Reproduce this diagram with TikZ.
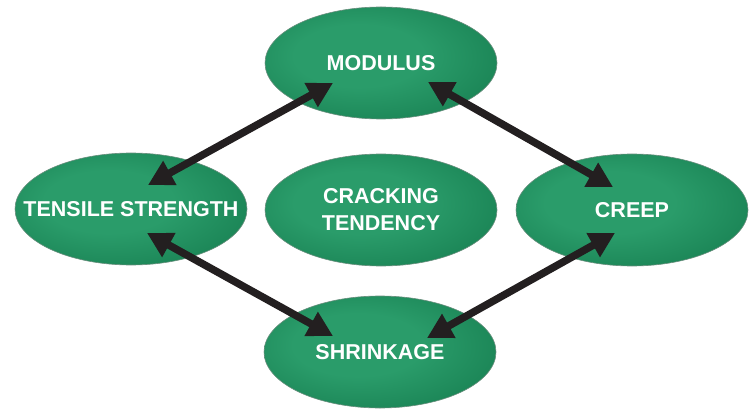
\documentclass[tikz,border=0pt]{standalone}
\usepackage{fontspec}
\setmainfont{Liberation Sans}
\usetikzlibrary{shapes.geometric, arrows.meta, calc}
\definecolor{gin}{RGB}{42,156,106}
\definecolor{gmid}{RGB}{24,128,82}
\definecolor{gout}{RGB}{10,92,56}
\definecolor{gedge}{RGB}{5,66,38}
\definecolor{arr}{RGB}{35,31,32}
\pgfdeclareradialshading{lens}{\pgfpoint{-6bp}{4bp}}{color(0bp)=(gin); color(14bp)=(gin); color(34bp)=(gmid); color(45bp)=(gout); color(50bp)=(gedge); color(70bp)=(gedge)}

\begin{document}
\begin{tikzpicture}[x=1pt, y=1pt,
  prop/.style={ellipse, shading=lens, draw=gedge!60!white, line width=.6pt,
    minimum width=232pt, minimum height=112pt, inner sep=0pt,
    text=white, align=center, font=\bfseries\fontsize{21.5}{27}\selectfont},
  link/.style={draw=arr, line width=7.5pt,
    {Triangle[length=25pt,width=26pt]}-{Triangle[length=25pt,width=26pt]}}]
\useasboundingbox (0,0) rectangle (754,410);
\node[prop] (mod) at (381,347) {MODULUS};
\node[prop, inner xsep=-30pt] (ten) at (131,201) {TENSILE STRENGTH};
\node[prop] (crk) at (381,200) {CRACKING\\TENDENCY};
\node[prop] (crp) at (632,200) {CREEP};
\node[prop] (shr) at (380,58) {SHRINKAGE};
\draw[link] ($(ten)+(17,24)$) -- ($(mod)+(-48,-20)$);
\draw[link] ($(mod)+(47,-19)$) -- ($(crp)+(-19,23)$);
\draw[link] ($(ten)+(16,-24)$) -- ($(shr)+(-47,16)$);
\draw[link] ($(crp)+(-17,-23)$) -- ($(shr)+(47,14)$);
\end{tikzpicture}
\end{document}
